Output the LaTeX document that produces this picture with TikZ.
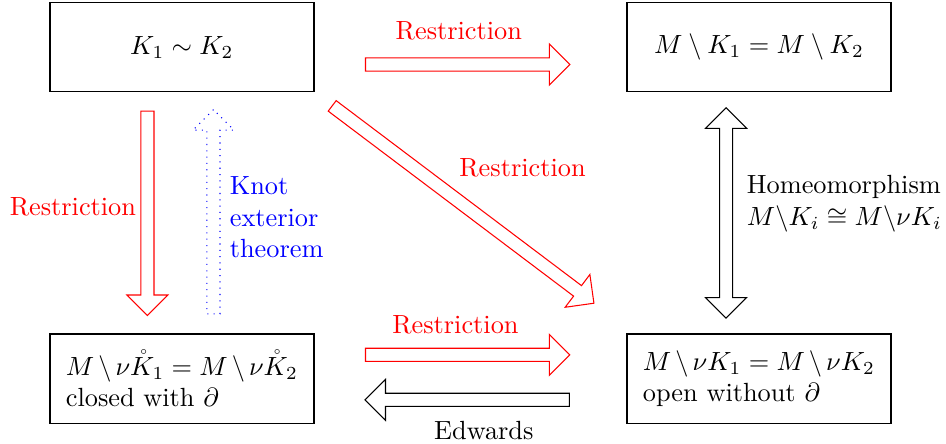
\documentclass[tikz,border=0pt]{standalone}
\usetikzlibrary{positioning,shapes.arrows,calc}

\begin{document}
\begin{tikzpicture}[
  node distance=3.22cm and 4.16cm,
  space/.style={draw, semithick, minimum width=3.53cm, minimum height=1.19cm},
  space-note/.style={space, text width=3.1cm, inner xsep=6pt, align=left},
  blockarrow/.style={single arrow, draw, inner xsep=0pt, inner ysep=2.3pt,
    single arrow head extend=5.3pt, single arrow head indent=0pt, minimum height=2.73cm},
  botharrow/.style={double arrow, draw, inner xsep=0pt, inner ysep=2.3pt,
    double arrow head extend=5.3pt, double arrow head indent=0pt, minimum height=2.81cm},
  arrow-annotate/.style={midway, align=left}
]
  \useasboundingbox (0,0) rectangle (12.64,5.92);

  \node (knots) at (2.43,5.29) [space] {$K_1 \sim K_2$};
  \node (compl) [right=of knots, space] {$M \setminus K_1 = M \setminus K_2$};
  \node (closed) [below=of knots, space-note] {$M \setminus \nu\mathring{K}_1 = M \setminus \nu\mathring{K}_2$\\closed with $\partial$};
  \node (open) [below=of compl, space-note] {$M \setminus \nu K_1 = M \setminus \nu K_2$\\open without $\partial$};

  % top row
  \path ([yshift=-6.6pt]knots.east) -- ([yshift=-6.6pt]compl.west)
    node[midway, xshift=-2.3pt, blockarrow, draw=red] {}
    node[arrow-annotate, red, xshift=-4.4pt, yshift=12.7pt] {Restriction};

  % bottom row
  \path ([yshift=9.1pt]closed.east) -- ([yshift=9.1pt]open.west)
    node[midway, xshift=-2.3pt, blockarrow, draw=red] {}
    node[arrow-annotate, red, xshift=-5.7pt, yshift=11.6pt] {Restriction};
  \path ([yshift=-8pt]open.west) -- ([yshift=-8pt]closed.east)
    node[midway, blockarrow, rotate=180] {}
    node[arrow-annotate, xshift=5.1pt, yshift=-11.6pt] {Edwards};

  % left column
  \path ([xshift=-13.1pt]knots.south) -- ([xshift=-13.1pt]closed.north)
    node[midway, yshift=1.1pt, blockarrow, draw=red, rotate=-90] {}
    node[arrow-annotate, red, left, xshift=-0.8pt, yshift=2.5pt] {Restriction};
  \path ([xshift=12pt]closed.north) -- ([xshift=12pt]knots.south)
    node[midway, yshift=-0.8pt, blockarrow, draw=blue, dotted, rotate=90] {}
    node[arrow-annotate, blue, right, xshift=2.7pt, yshift=-1.7pt] {Knot\\exterior\\theorem};

  % right column
  \path ([xshift=-12.5pt]compl.south) -- ([xshift=-12.5pt]open.north)
    node[midway, botharrow, rotate=90] {}
    node[arrow-annotate, right, xshift=4.4pt, yshift=3.6pt] {Homeomorphism\\$M\backslash K_i \cong M\backslash \nu K_i$};

  % diagonal
  \path ([shift={(5.7pt,-4.4pt)}]knots.south east) -- ([shift={(-13.3pt,12.3pt)}]open.north west)
    node[midway, sloped, blockarrow, draw=red, minimum height=4.38cm] {}
    node[arrow-annotate, red, xshift=23.6pt, yshift=13.1pt] {Restriction};

\end{tikzpicture}
\end{document}
